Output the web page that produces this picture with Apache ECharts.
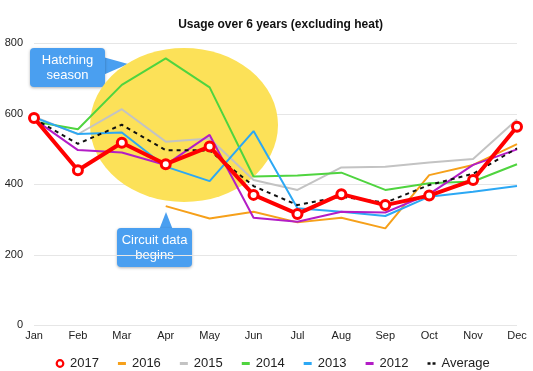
<!DOCTYPE html>
<html>
<head>
<meta charset="utf-8">
<script src="https://cdn.jsdelivr.net/npm/echarts@6/dist/echarts.min.js"></script>
<style>html,body{margin:0;padding:0;background:#fff}#c{width:533px;height:371px}</style>
</head>
<body>
<div id="c"></div>
<script>
var months = ['Jan','Feb','Mar','Apr','May','Jun','Jul','Aug','Sep','Oct','Nov','Dec'];
var y2017 = [588, 440, 518, 457, 507, 370, 316, 372, 341, 368, 412, 563];
var y2016 = [null, null, null, 338, 303, 322, 292, 305, 275, 426, 455, 514];
var y2015 = [592, 542, 613, 521, 530, 412, 384, 448, 450, 462, 472, 584];
var y2014 = [578, 556, 682, 757, 675, 422, 425, 433, 384, 403, 408, 457];
var y2013 = [590, 543, 547, 450, 409, 551, 332, 322, 310, 365, 379, 395];
var y2012 = [585, 497, 490, 455, 540, 305, 294, 322, 320, 372, 455, 499];
var yAvg  = [586, 515, 569, 497, 496, 395, 341, 365, 348, 398, 430, 502];
var yTicks = [0, 200, 400, 600, 800];

var FONT = '"Liberation Sans", Arial, Helvetica, sans-serif';
var chart = echarts.init(document.getElementById('c'), null, {renderer: 'canvas'});

var BOUNDS = 'M0,0h0.01v0.01h-0.01z M9.99,9.99h0.01v0.01h-0.01z ';
var lineIcon = 'path://' + BOUNDS + 'M1,3.6h8v2.8h-8z';
var avgIcon = 'path://' + BOUNDS + 'M1,3.8h3v2.4h-3z M6,3.8h3v2.4h-3z';
var ringIcon = 'path://' + BOUNDS +
  'M5,0.6A4.4,4.4 0 1,1 4.999,0.6Z M5,2.8A2.2,2.2 0 1,0 5.001,2.8Z';

var colors = {
  '2017': '#FF0000', '2016': '#F6A01A', '2015': '#C3C3C3', '2014': '#4FD43F',
  '2013': '#2CA8F4', '2012': '#B31DC6', 'Average': '#111111'
};

function thin(name, data) {
  return {
    name: name, type: 'line', data: data, symbol: 'none', showSymbol: false,
    lineStyle: {color: colors[name], width: 2}, itemStyle: {color: colors[name]},
    connectNulls: false, silent: true, animation: false, z: 3
  };
}

var series = [
  thin('2016', y2016), thin('2015', y2015), thin('2014', y2014),
  thin('2013', y2013), thin('2012', y2012),
  {
    name: 'Average', type: 'line', data: yAvg, symbol: 'none', showSymbol: false,
    lineStyle: {color: '#111', width: 2, type: [4, 4]}, itemStyle: {color: '#111'},
    silent: true, animation: false, z: 4
  },
  {
    name: '2017', type: 'line', data: y2017, symbol: 'circle', symbolSize: 9,
    showSymbol: true,
    lineStyle: {color: '#FF0000', width: 4},
    itemStyle: {color: '#ffffff', borderColor: '#FF0000', borderWidth: 3},
    silent: true, animation: false, z: 5
  }
];

var option = {
  animation: false,
  title: {
    text: 'Usage over 6 years (excluding heat)',
    left: 275.5, top: 14, textAlign: 'center',
    textStyle: {fontFamily: FONT, fontSize: 12, fontWeight: 'bold', color: '#111'}
  },
  grid: {left: 34, right: 16, top: 43.3, bottom: 45.7, containLabel: false},
  xAxis: {
    type: 'category', data: months, boundaryGap: false,
    axisLine: {show: false}, axisTick: {show: false},
    axisLabel: {fontFamily: FONT, fontSize: 11, color: '#222', margin: 5},
    splitLine: {show: false}
  },
  yAxis: {
    type: 'value', min: yTicks[0], max: yTicks[yTicks.length - 1], interval: 200,
    axisLine: {show: false}, axisTick: {show: false},
    axisLabel: {fontFamily: FONT, fontSize: 11, color: '#222', margin: 11},
    splitLine: {lineStyle: {color: '#E6E6E6', width: 1}}
  },
  legend: {
    data: [
      {name: '2017', icon: ringIcon, itemStyle: {color: '#FF0000', borderWidth: 0}},
      {name: '2016', icon: lineIcon, itemStyle: {color: colors['2016']}},
      {name: '2015', icon: lineIcon, itemStyle: {color: colors['2015']}},
      {name: '2014', icon: lineIcon, itemStyle: {color: colors['2014']}},
      {name: '2013', icon: lineIcon, itemStyle: {color: colors['2013']}},
      {name: '2012', icon: lineIcon, itemStyle: {color: colors['2012']}},
      {name: 'Average', icon: avgIcon, itemStyle: {color: '#111'}}
    ],
    top: 352, left: 50, itemWidth: 10, itemHeight: 10, itemGap: 18,
    selectedMode: false,
    textStyle: {fontFamily: FONT, fontSize: 13, color: '#222'}
  },
  graphic: [
    {
      type: 'circle', z: 1, silent: true,
      x: 184, y: 125, scaleX: 94 / 77, scaleY: 1,
      shape: {cx: 0, cy: 0, r: 77},
      style: {fill: '#FCE158'}
    },
    {
      type: 'group', z: 10, silent: true,
      children: [
        {type: 'polygon', shape: {points: [[103, 57], [128, 64], [103, 75]]},
         style: {fill: '#4A9FF0'}},
        {type: 'rect', shape: {x: 30, y: 48, width: 75, height: 39, r: 4},
         style: {fill: '#4A9FF0', shadowBlur: 3, shadowColor: 'rgba(0,0,0,0.3)', shadowOffsetY: 1}},
        {type: 'text', x: 67.5, y: 68,
         style: {text: 'Hatching\nseason', fill: '#fff', font: '13px ' + FONT,
                 align: 'center', verticalAlign: 'middle', lineHeight: 15}}
      ]
    },
    {
      type: 'group', z: 10, silent: true,
      children: [
        {type: 'polygon', shape: {points: [[159, 230], [166, 212], [173, 230]]},
         style: {fill: '#4A9FF0'}},
        {type: 'rect', shape: {x: 117, y: 228, width: 75, height: 39, r: 4},
         style: {fill: '#4A9FF0', shadowBlur: 3, shadowColor: 'rgba(0,0,0,0.3)', shadowOffsetY: 1}},
        {type: 'text', x: 154.5, y: 248,
         style: {text: 'Circuit data\nbegins', fill: '#fff', font: '13px ' + FONT,
                 align: 'center', verticalAlign: 'middle', lineHeight: 15}}
      ]
    }
  ],
  series: series
};
chart.setOption(option);
</script>
</body>
</html>
